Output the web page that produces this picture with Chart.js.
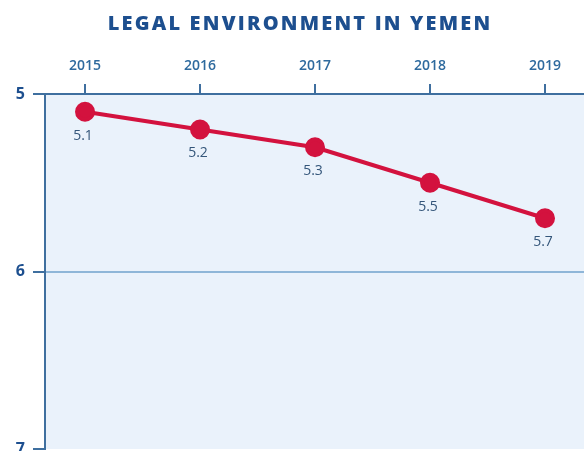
<!DOCTYPE html>
<html>
<head>
<meta charset="utf-8">
<script src="https://cdn.jsdelivr.net/npm/chart.js@4"></script>
<style>
  html, body { margin: 0; padding: 0; background: #fff; }
  #wrap { width: 584px; height: 451px; }
</style>
</head>
<body>
<div id="wrap"><canvas id="chart"></canvas></div>
<script>
const years = [2015, 2016, 2017, 2018, 2019];
const scores = [5.1, 5.2, 5.3, 5.5, 5.7];
const yTicks = [5, 6, 7];
const titleText = "LEGAL ENVIRONMENT IN YEMEN";

const navy = "#1d4f8f";
const axisBlue = "#3f6f9f";

// light blue plot background + spaced-out title
const plotBg = {
  id: "plotBg",
  beforeDraw(chart) {
    const { ctx, chartArea: a } = chart;
    ctx.save();
    ctx.fillStyle = "#eaf2fb";
    ctx.fillRect(a.left, a.top, a.right - a.left, a.bottom - a.top);
    ctx.font = "800 20px 'Open Sans'";
    ctx.letterSpacing = "2.2px";
    ctx.fillStyle = navy;
    ctx.textAlign = "center";
    ctx.textBaseline = "middle";
    ctx.fillText(titleText, 300, 24);
    ctx.restore();
  }
};

// value labels under each point
const pointLabels = {
  id: "pointLabels",
  afterDatasetsDraw(chart) {
    const { ctx } = chart;
    const meta = chart.getDatasetMeta(0);
    ctx.save();
    ctx.font = "14px 'Open Sans'";
    ctx.fillStyle = "#34567a";
    ctx.textAlign = "center";
    ctx.textBaseline = "middle";
    meta.data.forEach((pt, i) => {
      ctx.fillText(scores[i].toFixed(1), pt.x - 2, pt.y + 24);
    });
    ctx.restore();
  }
};

new Chart(document.getElementById("chart"), {
  type: "line",
  data: {
    datasets: [{
      data: years.map((y, i) => ({ x: y, y: scores[i] })),
      borderColor: "#d3123e",
      backgroundColor: "#d3123e",
      borderWidth: 4,
      pointRadius: 8,
      pointHoverRadius: 8,
      tension: 0
    }]
  },
  options: {
    responsive: true,
    maintainAspectRatio: false,
    animation: false,
    layout: { autoPadding: false, padding: { left: 0, right: 0, top: 40, bottom: 2 } },
    plugins: {
      legend: { display: false },
      tooltip: { enabled: false },
      title: { display: false }
    },
    scales: {
      x: {
        type: "linear",
        position: "top",
        min: 2014.652,
        max: 2019.339,
        afterBuildTicks: (s) => { s.ticks = years.map(v => ({ value: v })); },
        afterFit: (s) => { s.height = 54; s.paddingLeft = 0; s.paddingRight = 0; },
        border: { color: axisBlue, width: 2 },
        grid: { drawOnChartArea: false, drawTicks: true, tickLength: 10, color: axisBlue, lineWidth: 2 },
        ticks: {
          color: "#2e6a9e",
          font: { family: "Open Sans", size: 14, weight: "600" },
          padding: 10,
          maxRotation: 0,
          callback: (v) => String(v)
        }
      },
      y: {
        reverse: true,
        min: 5,
        max: 7,
        afterBuildTicks: (s) => { s.ticks = yTicks.map(v => ({ value: v })); },
        afterFit: (s) => { s.width = 45; s.paddingTop = 0; s.paddingBottom = 0; },
        border: { color: axisBlue, width: 2 },
        grid: { drawOnChartArea: false, drawTicks: true, tickLength: 12, color: axisBlue, lineWidth: 2 },
        ticks: {
          color: navy,
          font: { family: "Open Sans", size: 16, weight: "bold" },
          padding: 8
        }
      },
      y2: {
        reverse: true,
        min: 5,
        max: 7,
        position: "left",
        display: true,
        afterBuildTicks: (s) => { s.ticks = [{ value: 6 }]; },
        afterFit: (s) => { s.width = 0; s.paddingTop = 0; s.paddingBottom = 0; },
        border: { display: false },
        grid: { drawOnChartArea: true, drawTicks: false, color: "#8fb6d8", lineWidth: 2 },
        ticks: { display: false }
      }
    }
  },
  plugins: [plotBg, pointLabels]
});
</script>
</body>
</html>
